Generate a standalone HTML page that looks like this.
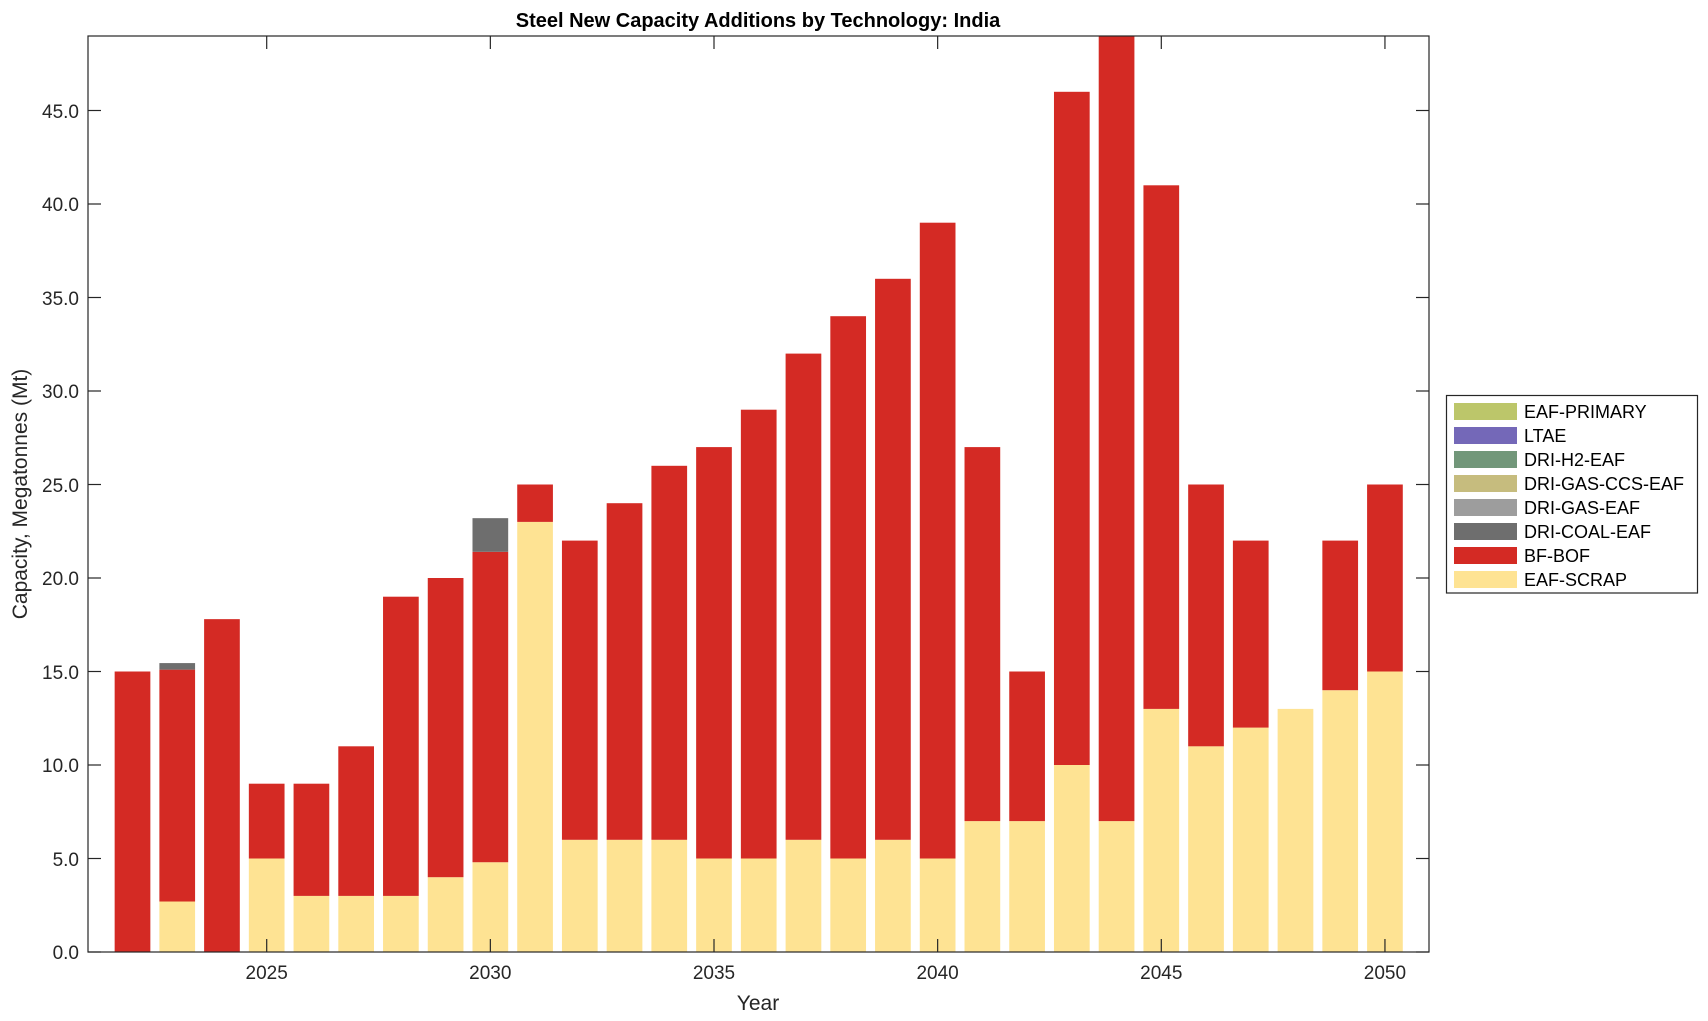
<!DOCTYPE html>
<html><head><meta charset="utf-8"><style>
body{margin:0;background:#fff;}
svg{display:block;font-family:"Liberation Sans",Arial,sans-serif;}
</style></head><body>
<svg id="s" width="1708" height="1021" viewBox="0 0 1708 1021">
<g id="bars"></g>
<rect x="88" y="36" width="1341" height="916" fill="none" stroke="#262626" stroke-width="1.2"/>
<g id="ticks" stroke="#262626" stroke-width="1.2"></g>
<g font-size="19" fill="#262626" text-anchor="end">
<text x="79" y="959">0.0</text>
<text x="79" y="866">5.0</text>
<text x="79" y="772">10.0</text>
<text x="79" y="679">15.0</text>
<text x="79" y="585">20.0</text>
<text x="79" y="492">25.0</text>
<text x="79" y="398">30.0</text>
<text x="79" y="305">35.0</text>
<text x="79" y="211">40.0</text>
<text x="79" y="118">45.0</text>
</g>
<g font-size="19" fill="#262626" text-anchor="middle">
<text x="266.7" y="979">2025</text>
<text x="490.3" y="979">2030</text>
<text x="714" y="979">2035</text>
<text x="937.6" y="979">2040</text>
<text x="1161.3" y="979">2045</text>
<text x="1384.9" y="979">2050</text>
<text x="758" y="1010" font-size="21">Year</text>
<text x="758" y="27" font-size="20" font-weight="bold" fill="#000">Steel New Capacity Additions by Technology: India</text>
<text transform="translate(27,494) rotate(-90)" font-size="21">Capacity, Megatonnes (Mt)</text>
</g>
<rect x="1446.5" y="395.5" width="251" height="197.5" fill="#fff" stroke="#262626" stroke-width="1.2"/>
<g font-size="18" fill="#000">
<rect x="1454" y="403" width="63" height="17" fill="#bcc66a"/><text x="1524" y="418">EAF-PRIMARY</text>
<rect x="1454" y="427" width="63" height="17" fill="#7468b8"/><text x="1524" y="442">LTAE</text>
<rect x="1454" y="451" width="63" height="17" fill="#72977a"/><text x="1524" y="466">DRI-H2-EAF</text>
<rect x="1454" y="475" width="63" height="17" fill="#c6bc7e"/><text x="1524" y="490">DRI-GAS-CCS-EAF</text>
<rect x="1454" y="499" width="63" height="17" fill="#9d9d9d"/><text x="1524" y="514">DRI-GAS-EAF</text>
<rect x="1454" y="523" width="63" height="17" fill="#6e6e6e"/><text x="1524" y="538">DRI-COAL-EAF</text>
<rect x="1454" y="547" width="63" height="17" fill="#d42a24"/><text x="1524" y="562">BF-BOF</text>
<rect x="1454" y="571" width="63" height="17" fill="#fee393"/><text x="1524" y="586">EAF-SCRAP</text>
</g>
</svg>
<script>
var d=[[0,15,15],[2.7,15.1,15.45],[0,17.8,17.8],[5,9,9],[3,9,9],[3,11,11],[3,19,19],[4,20,20],[4.8,21.4,23.2],[23,25,25],[6,22,22],[6,24,24],[6,26,26],[5,27,27],[5,29,29],[6,32,32],[5,34,34],[6,36,36],[5,39,39],[7,27,27],[7,15,15],[10,46,46],[7,49,49],[13,41,41],[11,25,25],[12,22,22],[13,13,13],[14,22,22],[15,25,25]];
var ns="http://www.w3.org/2000/svg",g=document.getElementById('bars'),t=document.getElementById('ticks');
function Y(v){return 952-v*18.7;}
function r(x,y0,y1,c){if(y1<=y0)return;var e=document.createElementNS(ns,'rect');e.setAttribute('x',x);e.setAttribute('y',Y(y1));e.setAttribute('width',35.7);e.setAttribute('height',(y1-y0)*18.7);e.setAttribute('fill',c);g.appendChild(e);}
d.forEach(function(a,i){var cx=132.5+i*44.73,x=cx-17.85;r(x,0,a[0],'#fee393');r(x,a[0],a[1],'#d42a24');r(x,a[1],a[2],'#6e6e6e');});
function L(x1,y1,x2,y2){var e=document.createElementNS(ns,'line');e.setAttribute('x1',x1);e.setAttribute('y1',y1);e.setAttribute('x2',x2);e.setAttribute('y2',y2);t.appendChild(e);}
for(var v=0;v<=45;v+=5){var y=Y(v);L(88,y,101,y);L(1429,y,1416,y);}
for(var k=0;k<6;k++){var x=266.7+k*5*44.73;L(x,952,x,939);L(x,36,x,49);}
</script>
</body></html>
